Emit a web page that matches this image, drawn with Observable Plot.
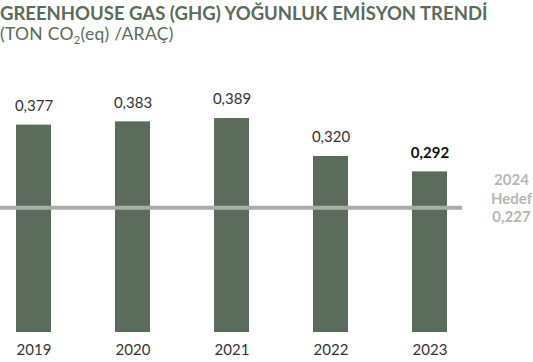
<!DOCTYPE html>
<html>
<head>
<meta charset="utf-8">
<script src="https://cdn.jsdelivr.net/npm/d3@7"></script>
<script src="https://cdn.jsdelivr.net/npm/@observablehq/plot@0.6"></script>
<style>
  html, body { margin: 0; padding: 0; background: #fff; }
  body { width: 533px; height: 362px; overflow: hidden; font-family: "Lato", sans-serif; }
  #title { color: #5b6b5c; font-weight: 700; font-size: 18.5px; line-height: 20px; padding-top: 3px; letter-spacing: 0px; }
  #subtitle { color: #5b6b5c; font-weight: 400; font-size: 17.5px; line-height: 22px; height: 27px; letter-spacing: 0.3px; }
  #subtitle sub { font-size: 11px; vertical-align: -4px; line-height: 0; }
</style>
</head>
<body>
<div id="title">GREENHOUSE GAS (GHG) YOĞUNLUK EMİSYON TRENDİ</div>
<div id="subtitle">(TON CO<sub>2</sub>(eq) /ARAÇ)</div>
<div id="chart"></div>
<script>
const years = ["2019", "2020", "2021", "2022", "2023"];
const values = [0.377, 0.383, 0.389, 0.320, 0.292];
const targetYear = "2024";
const targetLabel = "Hedef";
const targetValue = 0.227;

const fmt = v => v.toFixed(3).replace(".", ",");
const data = years.map((y, i) => ({year: y, value: values[i], last: i === years.length - 1}));

const chart = Plot.plot({
  width: 533,
  height: 312,
  marginLeft: 0,
  marginRight: 71,
  marginTop: 0,
  marginBottom: 30,
  style: {fontFamily: "Lato, sans-serif", fontSize: "15px", background: "transparent"},
  x: {domain: years, paddingInner: 0.648, paddingOuter: 0.1457, label: null, tickSize: 0, tickPadding: 12},
  y: {domain: [0, 0.5127], axis: null},
  marks: [
    Plot.barY(data, {x: "year", y: "value", fill: "#5b6b5c"}),
    Plot.ruleY([targetValue], {stroke: "#a8ada5", strokeWidth: 4}),
    Plot.text(data.filter(d => !d.last), {x: "year", y: "value", text: d => fmt(d.value), dy: -19, fill: "#333", fontSize: 15}),
    Plot.text(data.filter(d => d.last), {x: "year", y: "value", text: d => fmt(d.value), dy: -19, fill: "#111", fontSize: 15, fontWeight: 700}),
    Plot.text([targetValue], {y: d => d, frameAnchor: "right", dx: 49, dy: -10, textAnchor: "middle", lineHeight: 1.25,
      text: d => `${targetYear}\n${targetLabel}\n${fmt(d)}`, fill: "#b5b8b3", fontSize: 15, fontWeight: 700})
  ]
});
chart.querySelectorAll("[aria-label='x-axis tick label'] text").forEach(t => t.setAttribute("fill", "#333"));
document.getElementById("chart").append(chart);
</script>
</body>
</html>
